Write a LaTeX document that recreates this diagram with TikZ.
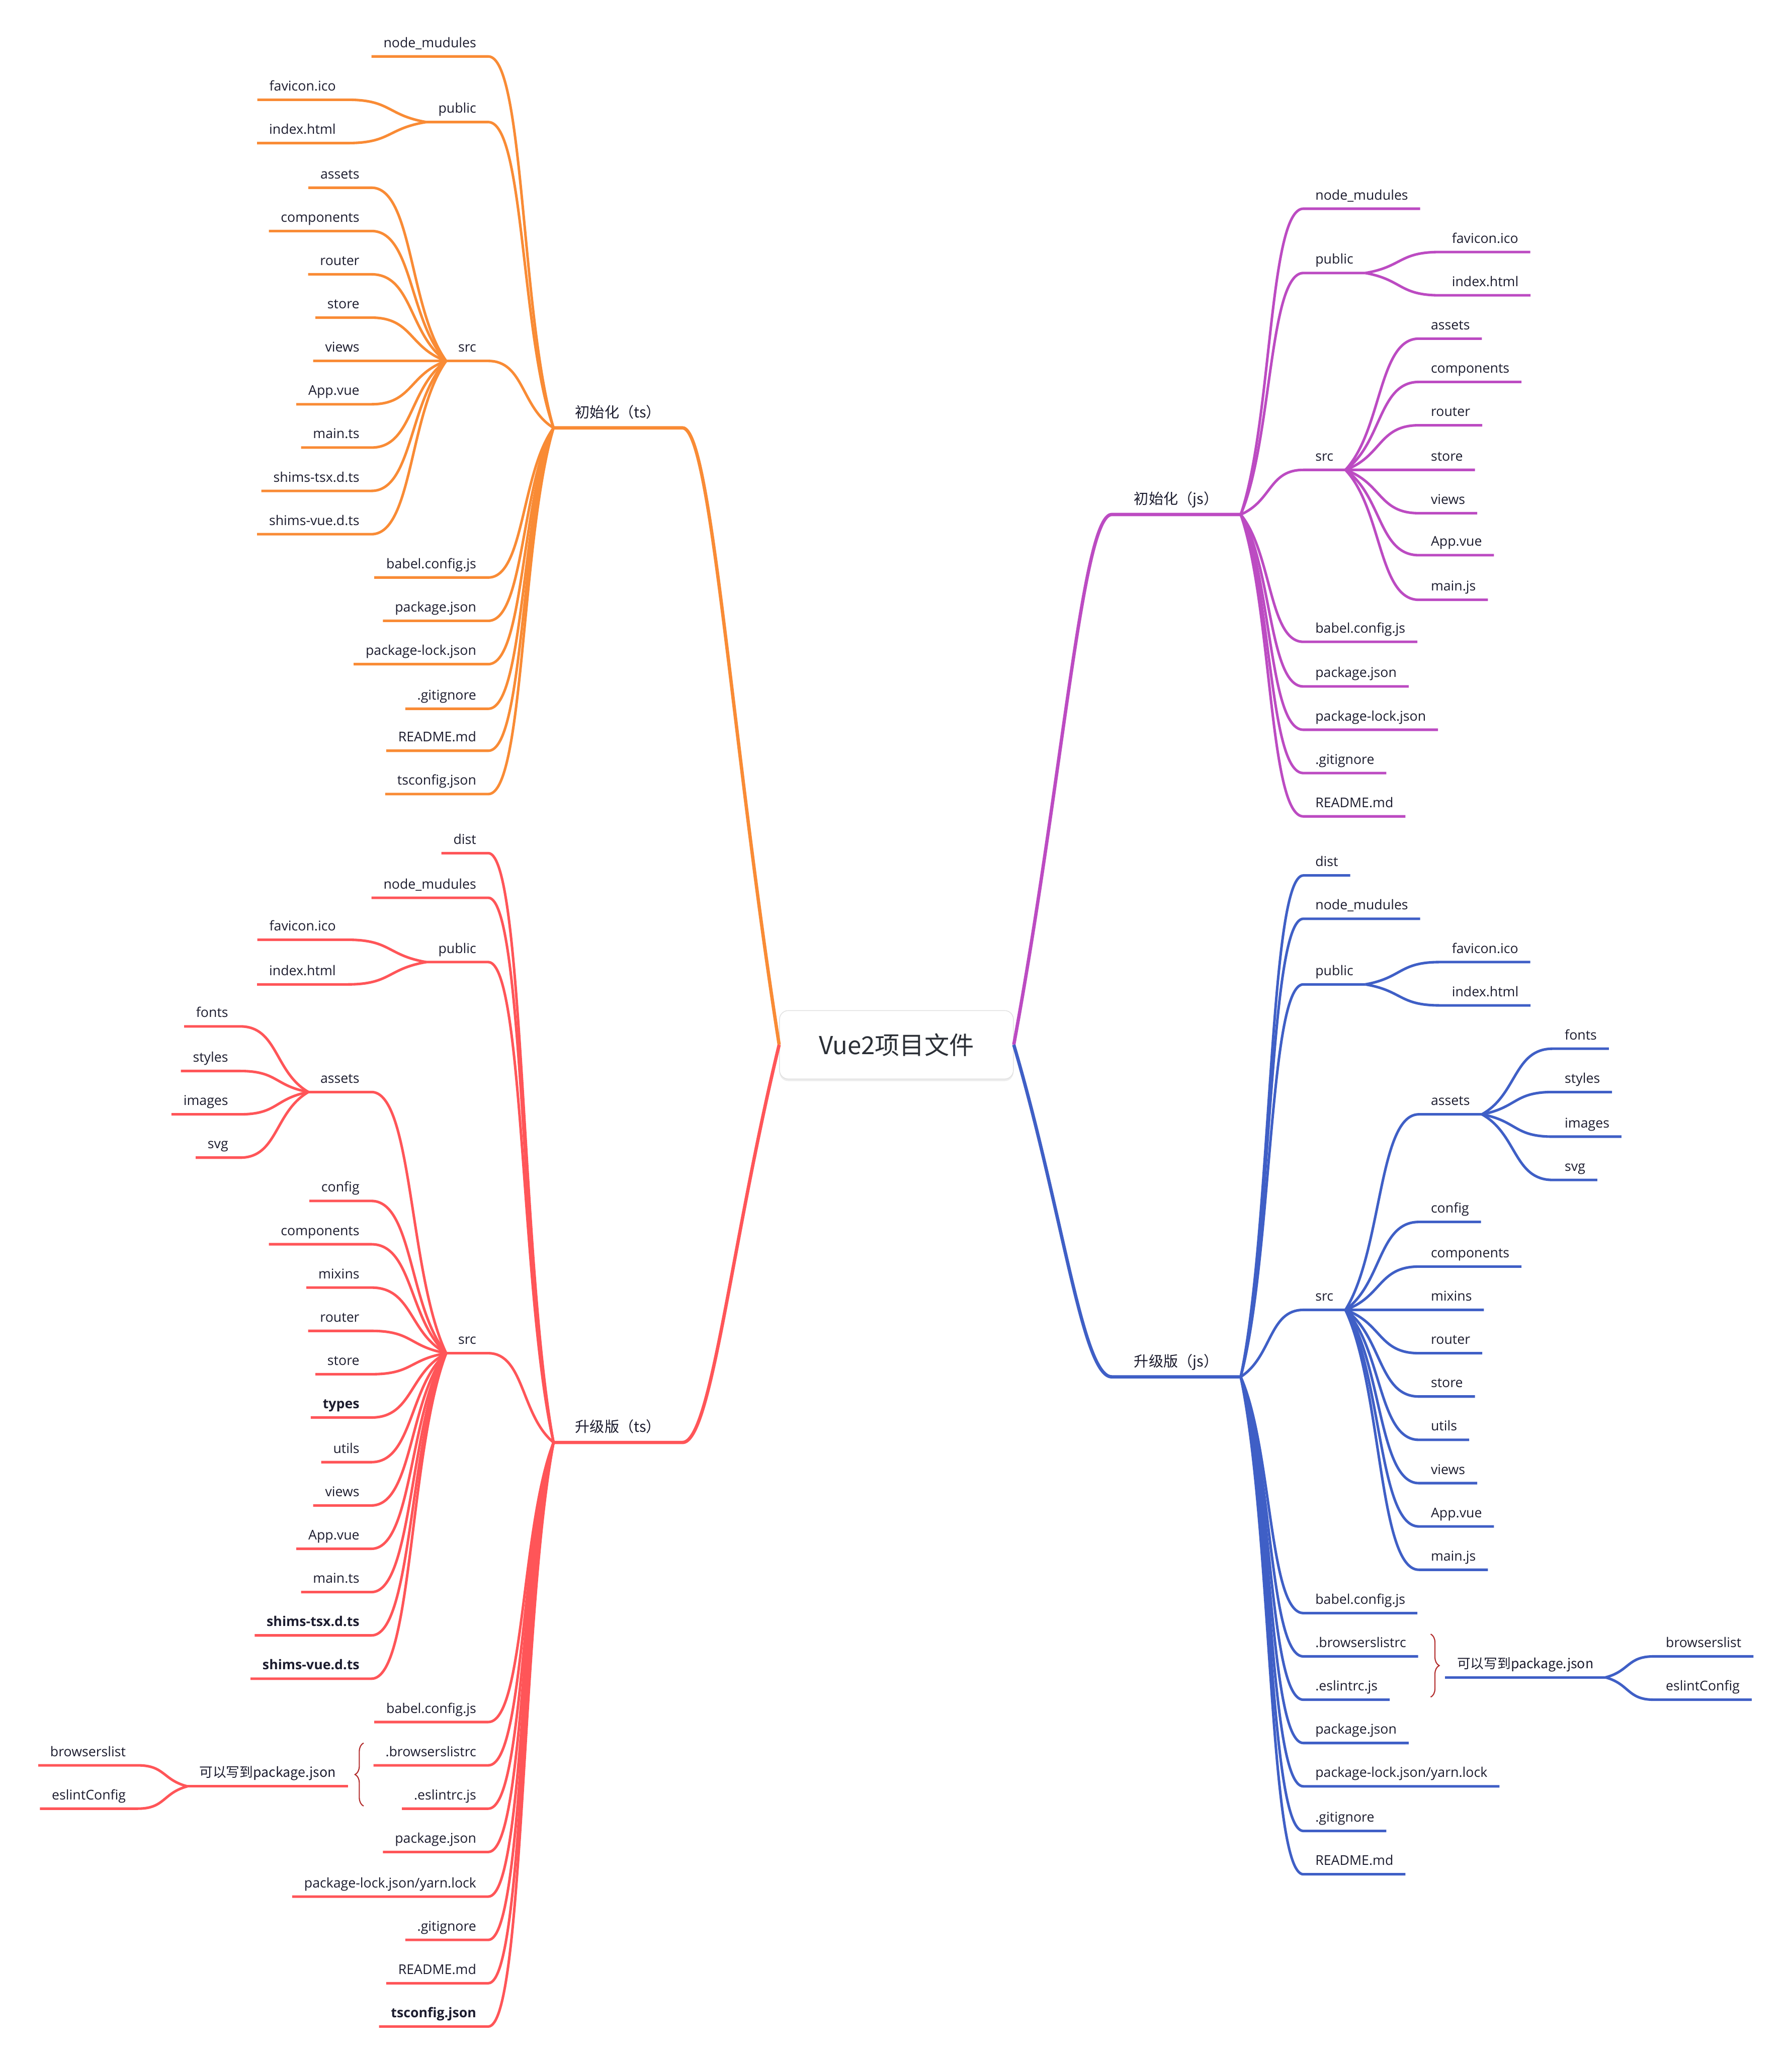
\documentclass[tikz,border=0pt]{standalone}
\usepackage{fontspec}
\setmainfont{Open Sans}
\newfontfamily\cjk{Noto Sans CJK SC}
\usetikzlibrary{calc,decorations.pathreplacing,shadows}

\definecolor{orgC}{HTML}{F98B35}
\definecolor{purC}{HTML}{BC4BC2}
\definecolor{redC}{HTML}{FF5558}
\definecolor{bluC}{HTML}{3F5FC6}
\definecolor{txtC}{HTML}{1C1C2E}
\definecolor{ctrC}{HTML}{2B2F36}
\definecolor{braceC}{HTML}{B22A2A}
\colorlet{brc}{orgC}

\tikzset{
  scurve/.style={to path={.. controls ($(\tikztostart)!0.5!(\tikztotarget |- \tikztostart) + 0.3*(\tikztotarget) - 0.3*(\tikztotarget |- \tikztostart)$) and ($(\tikztotarget)!0.55!(\tikztostart |- \tikztotarget)$) .. (\tikztotarget) \tikztonodes}},
  mcurve/.style={to path={.. controls ($(\tikztostart)!0.5!(\tikztotarget)$) and ($(\tikztotarget)!0.3!(\tikztostart |- \tikztotarget)$) .. (\tikztotarget) \tikztonodes}},
  leaf/.style={text=txtC, font=\fontsize{7.6}{9}\selectfont, inner xsep=6.6pt, inner ysep=4.9pt, text depth=0pt},
  lfL/.style={leaf, anchor=south east},
  lfR/.style={leaf, anchor=south west},
  topic/.style={text=txtC, font=\cjk\fontsize{8.3}{10}\selectfont, minimum width=2.55cm, inner ysep=5.6pt, text depth=0pt},
  ctrbox/.style={draw=black!12, fill=white, rounded corners=5pt, minimum width=4.65cm, minimum height=1.36cm,
    drop shadow={opacity=0.15, shadow xshift=0pt, shadow yshift=-1.2pt}, text=ctrC, font=\cjk\fontsize{14}{16}\selectfont},
  ln/.style={draw=brc, line width=1.45pt},
  mainln/.style={draw=brc, line width=1.9pt},
  bracec/.style={draw=braceC, line width=0.6pt, decorate, decoration={brace, amplitude=0.17cm}},
}

\begin{document}
\begin{tikzpicture}[x=0.0261cm,y=-0.0261cm]
\fill[white] (0,0) rectangle (1365,1568);
\useasboundingbox (0,0) rectangle (1365,1568);

% centre
\node[ctrbox] (ctr) at (683,796) {Vue2项目文件};

% 初始化（ts）
\begin{scope}
\colorlet{brc}{orgC}
\node[topic, anchor=south east] (ti) at (520,326) {初始化（ts）};
\draw[mainln] (ctr.west) to[mcurve] (ti.south east) -- (ti.south west);
\node[lfL] (ti-nm) at (372,43) {node\_mudules};
\draw[ln] (ti.south west) to[scurve] (ti-nm.south east) -- (ti-nm.south west);
\node[lfL] (ti-pub) at (372,93) {public};
\draw[ln] (ti.south west) to[scurve] (ti-pub.south east) -- (ti-pub.south west);
\node[lfL] (ti-fav) at (265,76) {favicon.ico};
\draw[ln] (ti-pub.south west) to[scurve] (ti-fav.south east) -- (ti-fav.south west);
\node[lfL] (ti-idx) at (265,109) {index.html};
\draw[ln] (ti-pub.south west) to[scurve] (ti-idx.south east) -- (ti-idx.south west);
\node[lfL] (ti-src) at (372,275) {src};
\draw[ln] (ti.south west) to[scurve] (ti-src.south east) -- (ti-src.south west);
\node[lfL] (ti-ast) at (283,143) {assets};
\draw[ln] (ti-src.south west) to[scurve] (ti-ast.south east) -- (ti-ast.south west);
\node[lfL] (ti-cmp) at (283,176) {components};
\draw[ln] (ti-src.south west) to[scurve] (ti-cmp.south east) -- (ti-cmp.south west);
\node[lfL] (ti-rtr) at (283,209) {router};
\draw[ln] (ti-src.south west) to[scurve] (ti-rtr.south east) -- (ti-rtr.south west);
\node[lfL] (ti-sto) at (283,242) {store};
\draw[ln] (ti-src.south west) to[scurve] (ti-sto.south east) -- (ti-sto.south west);
\node[lfL] (ti-vw) at (283,275) {views};
\draw[ln] (ti-src.south west) to[scurve] (ti-vw.south east) -- (ti-vw.south west);
\node[lfL] (ti-app) at (283,308) {App.vue};
\draw[ln] (ti-src.south west) to[scurve] (ti-app.south east) -- (ti-app.south west);
\node[lfL] (ti-main) at (283,341) {main.ts};
\draw[ln] (ti-src.south west) to[scurve] (ti-main.south east) -- (ti-main.south west);
\node[lfL] (ti-stsx) at (283,374) {shims-tsx.d.ts};
\draw[ln] (ti-src.south west) to[scurve] (ti-stsx.south east) -- (ti-stsx.south west);
\node[lfL] (ti-svue) at (283,407) {shims-vue.d.ts};
\draw[ln] (ti-src.south west) to[scurve] (ti-svue.south east) -- (ti-svue.south west);
\node[lfL] (ti-bab) at (372,440) {babel.config.js};
\draw[ln] (ti.south west) to[scurve] (ti-bab.south east) -- (ti-bab.south west);
\node[lfL] (ti-pkg) at (372,473) {package.json};
\draw[ln] (ti.south west) to[scurve] (ti-pkg.south east) -- (ti-pkg.south west);
\node[lfL] (ti-lock) at (372,506) {package-lock.json};
\draw[ln] (ti.south west) to[scurve] (ti-lock.south east) -- (ti-lock.south west);
\node[lfL] (ti-git) at (372,540) {.gitignore};
\draw[ln] (ti.south west) to[scurve] (ti-git.south east) -- (ti-git.south west);
\node[lfL] (ti-rd) at (372,572) {README.md};
\draw[ln] (ti.south west) to[scurve] (ti-rd.south east) -- (ti-rd.south west);
\node[lfL] (ti-tsc) at (372,605) {tsconfig.json};
\draw[ln] (ti.south west) to[scurve] (ti-tsc.south east) -- (ti-tsc.south west);
\end{scope}

% 初始化（js）
\begin{scope}
\colorlet{brc}{purC}
\node[topic, anchor=south west] (ji) at (847,392) {初始化（js）};
\draw[mainln] (ctr.east) to[mcurve] (ji.south west) -- (ji.south east);
\node[lfR] (ji-nm) at (993,159) {node\_mudules};
\draw[ln] (ji.south east) to[scurve] (ji-nm.south west) -- (ji-nm.south east);
\node[lfR] (ji-pub) at (993,208) {public};
\draw[ln] (ji.south east) to[scurve] (ji-pub.south west) -- (ji-pub.south east);
\node[lfR] (ji-fav) at (1097,192) {favicon.ico};
\draw[ln] (ji-pub.south east) to[scurve] (ji-fav.south west) -- (ji-fav.south east);
\node[lfR] (ji-idx) at (1097,225) {index.html};
\draw[ln] (ji-pub.south east) to[scurve] (ji-idx.south west) -- (ji-idx.south east);
\node[lfR] (ji-src) at (993,358) {src};
\draw[ln] (ji.south east) to[scurve] (ji-src.south west) -- (ji-src.south east);
\node[lfR] (ji-ast) at (1081,258) {assets};
\draw[ln] (ji-src.south east) to[scurve] (ji-ast.south west) -- (ji-ast.south east);
\node[lfR] (ji-cmp) at (1081,291) {components};
\draw[ln] (ji-src.south east) to[scurve] (ji-cmp.south west) -- (ji-cmp.south east);
\node[lfR] (ji-rtr) at (1081,324) {router};
\draw[ln] (ji-src.south east) to[scurve] (ji-rtr.south west) -- (ji-rtr.south east);
\node[lfR] (ji-sto) at (1081,358) {store};
\draw[ln] (ji-src.south east) to[scurve] (ji-sto.south west) -- (ji-sto.south east);
\node[lfR] (ji-vw) at (1081,391) {views};
\draw[ln] (ji-src.south east) to[scurve] (ji-vw.south west) -- (ji-vw.south east);
\node[lfR] (ji-app) at (1081,423) {App.vue};
\draw[ln] (ji-src.south east) to[scurve] (ji-app.south west) -- (ji-app.south east);
\node[lfR] (ji-main) at (1081,457) {main.js};
\draw[ln] (ji-src.south east) to[scurve] (ji-main.south west) -- (ji-main.south east);
\node[lfR] (ji-bab) at (993,489) {babel.config.js};
\draw[ln] (ji.south east) to[scurve] (ji-bab.south west) -- (ji-bab.south east);
\node[lfR] (ji-pkg) at (993,523) {package.json};
\draw[ln] (ji.south east) to[scurve] (ji-pkg.south west) -- (ji-pkg.south east);
\node[lfR] (ji-lock) at (993,556) {package-lock.json};
\draw[ln] (ji.south east) to[scurve] (ji-lock.south west) -- (ji-lock.south east);
\node[lfR] (ji-git) at (993,589) {.gitignore};
\draw[ln] (ji.south east) to[scurve] (ji-git.south west) -- (ji-git.south east);
\node[lfR] (ji-rd) at (993,622) {README.md};
\draw[ln] (ji.south east) to[scurve] (ji-rd.south west) -- (ji-rd.south east);
\end{scope}

% 升级版（ts）
\begin{scope}
\colorlet{brc}{redC}
\node[topic, anchor=south east] (tu) at (520,1099) {升级版（ts）};
\draw[mainln] (ctr.west) to[mcurve] (tu.south east) -- (tu.south west);
\node[lfL] (tu-dist) at (372,650) {dist};
\draw[ln] (tu.south west) to[scurve] (tu-dist.south east) -- (tu-dist.south west);
\node[lfL] (tu-nm) at (372,684) {node\_mudules};
\draw[ln] (tu.south west) to[scurve] (tu-nm.south east) -- (tu-nm.south west);
\node[lfL] (tu-pub) at (372,733) {public};
\draw[ln] (tu.south west) to[scurve] (tu-pub.south east) -- (tu-pub.south west);
\node[lfL] (tu-fav) at (265,716) {favicon.ico};
\draw[ln] (tu-pub.south west) to[scurve] (tu-fav.south east) -- (tu-fav.south west);
\node[lfL] (tu-idx) at (265,750) {index.html};
\draw[ln] (tu-pub.south west) to[scurve] (tu-idx.south east) -- (tu-idx.south west);
\node[lfL] (tu-src) at (372,1031) {src};
\draw[ln] (tu.south west) to[scurve] (tu-src.south east) -- (tu-src.south west);
\node[lfL] (tu-ast) at (283,832) {assets};
\draw[ln] (tu-src.south west) to[scurve] (tu-ast.south east) -- (tu-ast.south west);
\node[lfL] (tu-fnt) at (183,782) {fonts};
\draw[ln] (tu-ast.south west) to[scurve] (tu-fnt.south east) -- (tu-fnt.south west);
\node[lfL] (tu-sty) at (183,816) {styles};
\draw[ln] (tu-ast.south west) to[scurve] (tu-sty.south east) -- (tu-sty.south west);
\node[lfL] (tu-img) at (183,849) {images};
\draw[ln] (tu-ast.south west) to[scurve] (tu-img.south east) -- (tu-img.south west);
\node[lfL] (tu-svg) at (183,882) {svg};
\draw[ln] (tu-ast.south west) to[scurve] (tu-svg.south east) -- (tu-svg.south west);
\node[lfL] (tu-cfg) at (283,915) {config};
\draw[ln] (tu-src.south west) to[scurve] (tu-cfg.south east) -- (tu-cfg.south west);
\node[lfL] (tu-cmp) at (283,948) {components};
\draw[ln] (tu-src.south west) to[scurve] (tu-cmp.south east) -- (tu-cmp.south west);
\node[lfL] (tu-mix) at (283,981) {mixins};
\draw[ln] (tu-src.south west) to[scurve] (tu-mix.south east) -- (tu-mix.south west);
\node[lfL] (tu-rtr) at (283,1014) {router};
\draw[ln] (tu-src.south west) to[scurve] (tu-rtr.south east) -- (tu-rtr.south west);
\node[lfL] (tu-sto) at (283,1047) {store};
\draw[ln] (tu-src.south west) to[scurve] (tu-sto.south east) -- (tu-sto.south west);
\node[lfL] (tu-typ) at (283,1080) {\bfseries types};
\draw[ln] (tu-src.south west) to[scurve] (tu-typ.south east) -- (tu-typ.south west);
\node[lfL] (tu-utl) at (283,1114) {utils};
\draw[ln] (tu-src.south west) to[scurve] (tu-utl.south east) -- (tu-utl.south west);
\node[lfL] (tu-vw) at (283,1147) {views};
\draw[ln] (tu-src.south west) to[scurve] (tu-vw.south east) -- (tu-vw.south west);
\node[lfL] (tu-app) at (283,1180) {App.vue};
\draw[ln] (tu-src.south west) to[scurve] (tu-app.south east) -- (tu-app.south west);
\node[lfL] (tu-main) at (283,1213) {main.ts};
\draw[ln] (tu-src.south west) to[scurve] (tu-main.south east) -- (tu-main.south west);
\node[lfL] (tu-stsx) at (283,1246) {\bfseries shims-tsx.d.ts};
\draw[ln] (tu-src.south west) to[scurve] (tu-stsx.south east) -- (tu-stsx.south west);
\node[lfL] (tu-svue) at (283,1279) {\bfseries shims-vue.d.ts};
\draw[ln] (tu-src.south west) to[scurve] (tu-svue.south east) -- (tu-svue.south west);
\node[lfL] (tu-bab) at (372,1312) {babel.config.js};
\draw[ln] (tu.south west) to[scurve] (tu-bab.south east) -- (tu-bab.south west);
\node[lfL] (tu-brc) at (372,1345) {.browserslistrc};
\draw[ln] (tu.south west) to[scurve] (tu-brc.south east) -- (tu-brc.south west);
\node[lfL] (tu-esl) at (372,1378) {.eslintrc.js};
\draw[ln] (tu.south west) to[scurve] (tu-esl.south east) -- (tu-esl.south west);
\node[lfL] (tu-pkg) at (372,1411) {package.json};
\draw[ln] (tu.south west) to[scurve] (tu-pkg.south east) -- (tu-pkg.south west);
\node[lfL] (tu-lock) at (372,1445) {package-lock.json/yarn.lock};
\draw[ln] (tu.south west) to[scurve] (tu-lock.south east) -- (tu-lock.south west);
\node[lfL] (tu-git) at (372,1478) {.gitignore};
\draw[ln] (tu.south west) to[scurve] (tu-git.south east) -- (tu-git.south west);
\node[lfL] (tu-rd) at (372,1511) {README.md};
\draw[ln] (tu.south west) to[scurve] (tu-rd.south east) -- (tu-rd.south west);
\node[lfL] (tu-tsc) at (372,1544) {\bfseries tsconfig.json};
\draw[ln] (tu.south west) to[scurve] (tu-tsc.south east) -- (tu-tsc.south west);
% 可以写到package.json
\draw[bracec] (277,1376) -- (277,1328);
\node[lfL] (tu-pj) at (265,1361) {\cjk 可以写到package.json};
\draw[ln] (tu-pj.south east) -- (tu-pj.south west);
\node[lfL] (tu-bl) at (105,1345) {browserslist};
\draw[ln] (tu-pj.south west) to[scurve] (tu-bl.south east) -- (tu-bl.south west);
\node[lfL] (tu-ec) at (105,1378) {eslintConfig};
\draw[ln] (tu-pj.south west) to[scurve] (tu-ec.south east) -- (tu-ec.south west);
\end{scope}

% 升级版（js）
\begin{scope}
\colorlet{brc}{bluC}
\node[topic, anchor=south west] (ju) at (847,1049) {升级版（js）};
\draw[mainln] (ctr.east) to[mcurve] (ju.south west) -- (ju.south east);
\node[lfR] (ju-dist) at (993,667) {dist};
\draw[ln] (ju.south east) to[scurve] (ju-dist.south west) -- (ju-dist.south east);
\node[lfR] (ju-nm) at (993,700) {node\_mudules};
\draw[ln] (ju.south east) to[scurve] (ju-nm.south west) -- (ju-nm.south east);
\node[lfR] (ju-pub) at (993,750) {public};
\draw[ln] (ju.south east) to[scurve] (ju-pub.south west) -- (ju-pub.south east);
\node[lfR] (ju-fav) at (1097,733) {favicon.ico};
\draw[ln] (ju-pub.south east) to[scurve] (ju-fav.south west) -- (ju-fav.south east);
\node[lfR] (ju-idx) at (1097,766) {index.html};
\draw[ln] (ju-pub.south east) to[scurve] (ju-idx.south west) -- (ju-idx.south east);
\node[lfR] (ju-src) at (993,998) {src};
\draw[ln] (ju.south east) to[scurve] (ju-src.south west) -- (ju-src.south east);
\node[lfR] (ju-ast) at (1081,849) {assets};
\draw[ln] (ju-src.south east) to[scurve] (ju-ast.south west) -- (ju-ast.south east);
\node[lfR] (ju-fnt) at (1183,799) {fonts};
\draw[ln] (ju-ast.south east) to[scurve] (ju-fnt.south west) -- (ju-fnt.south east);
\node[lfR] (ju-sty) at (1183,832) {styles};
\draw[ln] (ju-ast.south east) to[scurve] (ju-sty.south west) -- (ju-sty.south east);
\node[lfR] (ju-img) at (1183,866) {images};
\draw[ln] (ju-ast.south east) to[scurve] (ju-img.south west) -- (ju-img.south east);
\node[lfR] (ju-svg) at (1183,899) {svg};
\draw[ln] (ju-ast.south east) to[scurve] (ju-svg.south west) -- (ju-svg.south east);
\node[lfR] (ju-cfg) at (1081,931) {config};
\draw[ln] (ju-src.south east) to[scurve] (ju-cfg.south west) -- (ju-cfg.south east);
\node[lfR] (ju-cmp) at (1081,965) {components};
\draw[ln] (ju-src.south east) to[scurve] (ju-cmp.south west) -- (ju-cmp.south east);
\node[lfR] (ju-mix) at (1081,998) {mixins};
\draw[ln] (ju-src.south east) to[scurve] (ju-mix.south west) -- (ju-mix.south east);
\node[lfR] (ju-rtr) at (1081,1031) {router};
\draw[ln] (ju-src.south east) to[scurve] (ju-rtr.south west) -- (ju-rtr.south east);
\node[lfR] (ju-sto) at (1081,1064) {store};
\draw[ln] (ju-src.south east) to[scurve] (ju-sto.south west) -- (ju-sto.south east);
\node[lfR] (ju-utl) at (1081,1097) {utils};
\draw[ln] (ju-src.south east) to[scurve] (ju-utl.south west) -- (ju-utl.south east);
\node[lfR] (ju-vw) at (1081,1130) {views};
\draw[ln] (ju-src.south east) to[scurve] (ju-vw.south west) -- (ju-vw.south east);
\node[lfR] (ju-app) at (1081,1163) {App.vue};
\draw[ln] (ju-src.south east) to[scurve] (ju-app.south west) -- (ju-app.south east);
\node[lfR] (ju-main) at (1081,1196) {main.js};
\draw[ln] (ju-src.south east) to[scurve] (ju-main.south west) -- (ju-main.south east);
\node[lfR] (ju-bab) at (993,1229) {babel.config.js};
\draw[ln] (ju.south east) to[scurve] (ju-bab.south west) -- (ju-bab.south east);
\node[lfR] (ju-brc) at (993,1262) {.browserslistrc};
\draw[ln] (ju.south east) to[scurve] (ju-brc.south west) -- (ju-brc.south east);
\node[lfR] (ju-esl) at (993,1295) {.eslintrc.js};
\draw[ln] (ju.south east) to[scurve] (ju-esl.south west) -- (ju-esl.south east);
\node[lfR] (ju-pkg) at (993,1328) {package.json};
\draw[ln] (ju.south east) to[scurve] (ju-pkg.south west) -- (ju-pkg.south east);
\node[lfR] (ju-lock) at (993,1361) {package-lock.json/yarn.lock};
\draw[ln] (ju.south east) to[scurve] (ju-lock.south west) -- (ju-lock.south east);
\node[lfR] (ju-git) at (993,1395) {.gitignore};
\draw[ln] (ju.south east) to[scurve] (ju-git.south west) -- (ju-git.south east);
\node[lfR] (ju-rd) at (993,1428) {README.md};
\draw[ln] (ju.south east) to[scurve] (ju-rd.south west) -- (ju-rd.south east);
% 可以写到package.json
\draw[bracec] (1090,1245) -- (1090,1293);
\node[lfR] (ju-pj) at (1101,1278) {\cjk 可以写到package.json};
\draw[ln] (ju-pj.south west) -- (ju-pj.south east);
\node[lfR] (ju-bl) at (1260,1262) {browserslist};
\draw[ln] (ju-pj.south east) to[scurve] (ju-bl.south west) -- (ju-bl.south east);
\node[lfR] (ju-ec) at (1260,1295) {eslintConfig};
\draw[ln] (ju-pj.south east) to[scurve] (ju-ec.south west) -- (ju-ec.south east);
\end{scope}
\end{tikzpicture}
\end{document}
